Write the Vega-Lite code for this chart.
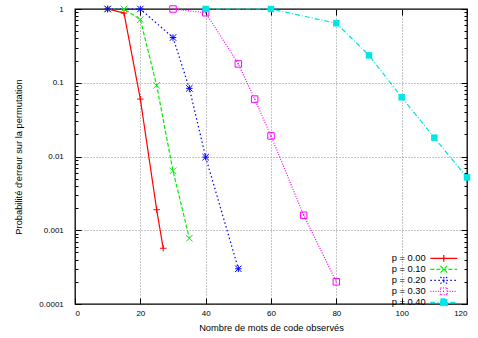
{
  "$schema": "https://vega.github.io/schema/vega-lite/v6.json",
  "width": 392,
  "height": 295,
  "autosize": {"type": "none"},
  "padding": {"left": 75, "top": 9, "right": 11, "bottom": 34},
  "background": "white",
  "view": {"stroke": "#000", "strokeWidth": 1.3},
  "config": {
    "font": "Liberation Sans",
    "axis": {
      "labelFont": "Liberation Sans",
      "titleFont": "Liberation Sans",
      "labelColor": "#000",
      "titleColor": "#000",
      "domain": false,
      "tickColor": "#000",
      "tickWidth": 1,
      "tickOpacity": 1,
      "gridColor": "#8a8a8a",
      "gridDash": [1, 2],
      "gridWidth": 1,
      "labelFontSize": 8,
      "titleFontSize": 9.3,
      "titleFontWeight": "normal"
    }
  },
  "data": {
    "values": [
      {"p": "p = 0.00", "n": 10, "err": 1},
      {"p": "p = 0.00", "n": 15, "err": 0.88},
      {"p": "p = 0.00", "n": 20, "err": 0.06},
      {"p": "p = 0.00", "n": 25, "err": 0.0019},
      {"p": "p = 0.00", "n": 27, "err": 0.00057},
      {"p": "p = 0.10", "n": 10, "err": 1},
      {"p": "p = 0.10", "n": 15, "err": 1},
      {"p": "p = 0.10", "n": 20, "err": 0.72},
      {"p": "p = 0.10", "n": 25, "err": 0.092},
      {"p": "p = 0.10", "n": 30, "err": 0.0064},
      {"p": "p = 0.10", "n": 35, "err": 0.00078},
      {"p": "p = 0.20", "n": 10, "err": 1},
      {"p": "p = 0.20", "n": 20, "err": 1},
      {"p": "p = 0.20", "n": 30, "err": 0.41},
      {"p": "p = 0.20", "n": 35, "err": 0.084},
      {"p": "p = 0.20", "n": 40, "err": 0.0098},
      {"p": "p = 0.20", "n": 50, "err": 0.0003},
      {"p": "p = 0.30", "n": 30, "err": 1},
      {"p": "p = 0.30", "n": 40, "err": 0.89},
      {"p": "p = 0.30", "n": 50, "err": 0.18},
      {"p": "p = 0.30", "n": 55, "err": 0.06},
      {"p": "p = 0.30", "n": 60, "err": 0.019},
      {"p": "p = 0.30", "n": 70, "err": 0.0016},
      {"p": "p = 0.30", "n": 80, "err": 0.0002},
      {"p": "p = 0.40", "n": 40, "err": 1},
      {"p": "p = 0.40", "n": 60, "err": 1},
      {"p": "p = 0.40", "n": 80, "err": 0.64},
      {"p": "p = 0.40", "n": 90, "err": 0.235},
      {"p": "p = 0.40", "n": 100, "err": 0.0635},
      {"p": "p = 0.40", "n": 110, "err": 0.018},
      {"p": "p = 0.40", "n": 120, "err": 0.0052}
    ]
  },
  "resolve": {"axis": {"x": "independent", "y": "independent"}},
  "layer": [
    {
      "mark": {"type": "line", "strokeWidth": 1.2},
      "encoding": {
        "x": {
          "field": "n", "type": "quantitative",
          "scale": {"domain": [0, 120], "nice": false, "zero": false},
          "axis": {
            "orient": "bottom",
            "values": [0, 20, 40, 60, 80, 100, 120],
            "grid": false,
            "ticks": false,
            "tickSize": 0,
            "labelPadding": 5,
            "title": "Nombre de mots de code observés",
            "titleX": 196,
            "titleY": 26.5,
            "titleAlign": "center",
            "titleBaseline": "alphabetic"
          }
        },
        "y": {
          "field": "err", "type": "quantitative",
          "scale": {"type": "log", "domain": [0.0001, 1], "nice": false},
          "axis": {
            "orient": "left",
            "values": [1, 0.1, 0.01, 0.001, 0.0001],
            "grid": false,
            "ticks": false,
            "tickSize": 0,
            "labelExpr": "format(datum.value, '~g')",
            "labelPadding": 11.7,
            "title": "Probabilité d'erreur sur la permutation",
            "titleX": -57,
            "titleY": 147.5,
            "titleAngle": -90,
            "titleAlign": "center",
            "titleBaseline": "middle"
          }
        },
        "color": {
          "field": "p", "type": "nominal",
          "scale": {"domain": ["p = 0.00", "p = 0.10", "p = 0.20", "p = 0.30", "p = 0.40"], "range": ["#ff0000", "#00ee00", "#0000ff", "#ff00ff", "#00e5e5"]},
          "legend": {
            "orient": "none", "legendX": 304.15, "legendY": 244.65, "title": null, "padding": 0,
            "symbolSize": 45, "symbolOffset": 60, "symbolStrokeWidth": 1.2, "symbolOpacity": 1,
            "rowPadding": -4.9, "labelFont": "Liberation Sans", "labelFontSize": 9.3, "labelColor": "#000",
            "labelAlign": "right", "labelOffset": -22.85
          }
        },
        "strokeDash": {
          "field": "p", "type": "nominal",
          "scale": {"domain": ["p = 0.00", "p = 0.10", "p = 0.20", "p = 0.30", "p = 0.40"], "range": [[1, 0], [4, 2], [1.5, 2.5], [1, 1.5], [5, 2, 1, 2]]},
          "legend": {
            "orient": "none", "legendX": 304.15, "legendY": 244.65, "title": null, "padding": 0,
            "symbolSize": 45, "symbolOffset": 60, "symbolStrokeWidth": 1.2, "symbolOpacity": 1,
            "rowPadding": -4.9, "labelFont": "Liberation Sans", "labelFontSize": 9.3, "labelColor": "#000",
            "labelAlign": "right", "labelOffset": -22.85
          }
        }
      }
    },
    {
      "mark": {"type": "point", "filled": false, "opacity": 0, "size": 45},
      "encoding": {
        "x": {
          "field": "n", "type": "quantitative",
          "axis": {
            "orient": "top",
            "offset": -6,
            "values": [0, 20, 40, 60, 80, 100, 120],
            "grid": false,
            "ticks": true,
            "tickSize": 6,
            "labels": false,
            "title": null
          }
        },
        "y": {
          "field": "err", "type": "quantitative",
          "axis": {
            "orient": "right",
            "offset": -6,
            "values": [1, 0.1, 0.01, 0.001, 0.0001,
              0.9, 0.8, 0.7, 0.6, 0.5, 0.4, 0.3, 0.2,
              0.09, 0.08, 0.07, 0.06, 0.05, 0.04, 0.03, 0.02,
              0.009, 0.008, 0.007, 0.006, 0.005, 0.004, 0.003, 0.002,
              0.0009, 0.0008, 0.0007, 0.0006, 0.0005, 0.0004, 0.0003, 0.0002],
            "grid": false,
            "ticks": true,
            "tickSize": 6,
            "tickDash": {"condition": {"test": "abs(log(datum.value)/LN10 - round(log(datum.value)/LN10)) < 0.001", "value": [6, 0]}, "value": [0, 3, 3, 3]},
            "labels": false,
            "title": null
          }
        },
        "color": {
          "field": "p", "type": "nominal",
          "legend": {
            "orient": "none", "legendX": 304.15, "legendY": 244.65, "title": null, "padding": 0,
            "symbolSize": 45, "symbolOffset": 60, "symbolStrokeWidth": 1.2, "symbolOpacity": 1,
            "rowPadding": -4.9, "labelFont": "Liberation Sans", "labelFontSize": 9.3, "labelColor": "#000",
            "labelAlign": "right", "labelOffset": -22.85
          }
        },
        "strokeDash": {
          "field": "p", "type": "nominal",
          "legend": {
            "orient": "none", "legendX": 304.15, "legendY": 244.65, "title": null, "padding": 0,
            "symbolSize": 45, "symbolOffset": 60, "symbolStrokeWidth": 1.2, "symbolOpacity": 1,
            "rowPadding": -4.9, "labelFont": "Liberation Sans", "labelFontSize": 9.3, "labelColor": "#000",
            "labelAlign": "right", "labelOffset": -22.85
          }
        },
        "shape": {
          "field": "p", "type": "nominal",
          "scale": {"domain": ["p = 0.00", "p = 0.10", "p = 0.20", "p = 0.30", "p = 0.40"], "range": [
            "M-4,0H4M0,-1V1",
            "M-4,0H4M-1,-1L1,1M-1,1L1,-1",
            "M-4,0H4M0,-1V1M-1,-1L1,1M-1,1L1,-1",
            "M-4,0H-1M1,0H4M-1,-1H1M1,-1V1M1,1H-1M-1,1V-1M-0.25,0H0.25",
            "M-4,0H4M-1,-1H1V1H-1Z"
          ]},
          "legend": {
            "orient": "none", "legendX": 304.15, "legendY": 244.65, "title": null, "padding": 0,
            "symbolSize": 45, "symbolOffset": 60, "symbolStrokeWidth": 1.2, "symbolOpacity": 1,
            "rowPadding": -4.9, "labelFont": "Liberation Sans", "labelFontSize": 9.3, "labelColor": "#000",
            "labelAlign": "right", "labelOffset": -22.85
          }
        }
      }
    },
    {
      "transform": [{"filter": "datum.p === 'p = 0.00'"}],
      "mark": {"type": "point", "filled": false, "strokeWidth": 1, "size": 42, "opacity": 1, "shape": "M-1,0H1M0,-1V1"},
      "encoding": {
        "x": {
          "field": "n", "type": "quantitative",
          "axis": {
            "orient": "bottom",
            "offset": -6,
            "values": [0, 20, 40, 60, 80, 100, 120],
            "grid": false,
            "ticks": true,
            "tickSize": 6,
            "labels": false,
            "title": null
          }
        },
        "y": {
          "field": "err", "type": "quantitative",
          "axis": {
            "orient": "left",
            "offset": -6,
            "values": [1, 0.1, 0.01, 0.001, 0.0001,
              0.9, 0.8, 0.7, 0.6, 0.5, 0.4, 0.3, 0.2,
              0.09, 0.08, 0.07, 0.06, 0.05, 0.04, 0.03, 0.02,
              0.009, 0.008, 0.007, 0.006, 0.005, 0.004, 0.003, 0.002,
              0.0009, 0.0008, 0.0007, 0.0006, 0.0005, 0.0004, 0.0003, 0.0002],
            "grid": false,
            "ticks": true,
            "tickSize": 6,
            "tickDash": {"condition": {"test": "abs(log(datum.value)/LN10 - round(log(datum.value)/LN10)) < 0.001", "value": [6, 0]}, "value": [0, 3, 3, 3]},
            "labels": false,
            "title": null
          }
        },
        "color": {"field": "p", "type": "nominal", "legend": null}
      }
    },
    {
      "transform": [{"filter": "datum.p === 'p = 0.10'"}],
      "mark": {"type": "point", "filled": false, "strokeWidth": 1, "size": 42, "opacity": 1, "shape": "M-1,-1L1,1M-1,1L1,-1"},
      "encoding": {
        "x": {"field": "n", "type": "quantitative", "axis": null},
        "y": {"field": "err", "type": "quantitative", "axis": null},
        "color": {"field": "p", "type": "nominal", "legend": null}
      }
    },
    {
      "transform": [{"filter": "datum.p === 'p = 0.20'"}],
      "mark": {"type": "point", "filled": false, "strokeWidth": 1, "size": 42, "opacity": 1, "shape": "M-1,0H1M0,-1V1M-1,-1L1,1M-1,1L1,-1"},
      "encoding": {
        "x": {"field": "n", "type": "quantitative", "axis": null},
        "y": {"field": "err", "type": "quantitative", "axis": null},
        "color": {"field": "p", "type": "nominal", "legend": null}
      }
    },
    {
      "transform": [{"filter": "datum.p === 'p = 0.30'"}],
      "mark": {"type": "point", "filled": false, "strokeWidth": 1, "size": 42, "opacity": 1, "shape": "M-1,-1H1V1H-1ZM-0.25,0H0.25"},
      "encoding": {
        "x": {"field": "n", "type": "quantitative", "axis": null},
        "y": {"field": "err", "type": "quantitative", "axis": null},
        "color": {"field": "p", "type": "nominal", "legend": null}
      }
    },
    {
      "transform": [{"filter": "datum.p === 'p = 0.40'"}],
      "mark": {"type": "point", "filled": true, "shape": "square", "size": 42, "opacity": 1},
      "encoding": {
        "x": {
          "field": "n", "type": "quantitative",
          "axis": {
            "orient": "bottom",
            "values": [20, 40, 60, 80, 100],
            "grid": true,
            "ticks": false,
            "labels": false,
            "title": null
          }
        },
        "y": {
          "field": "err", "type": "quantitative",
          "axis": {
            "orient": "left",
            "values": [0.1, 0.01, 0.001],
            "grid": true,
            "ticks": false,
            "labels": false,
            "title": null
          }
        },
        "color": {"field": "p", "type": "nominal", "legend": null}
      }
    }
  ]
}
